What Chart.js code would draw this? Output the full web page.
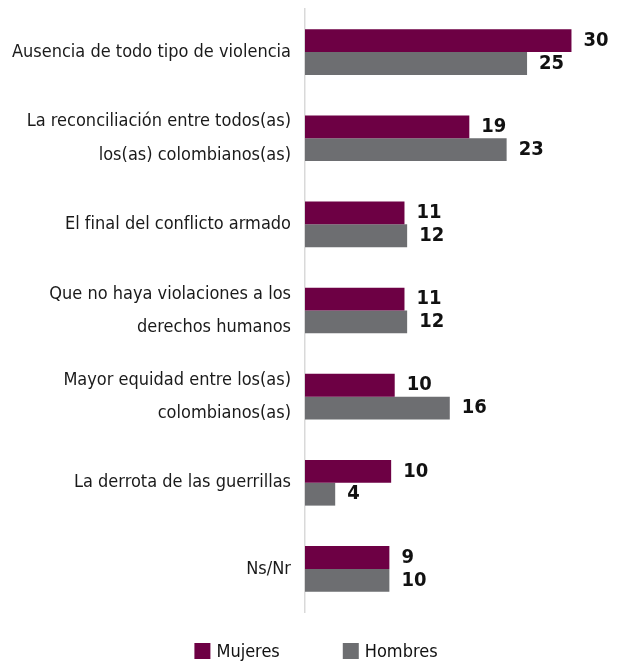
<!DOCTYPE html>
<html lang="es">
  <head>
    <meta charset="UTF-8" />
    <title>Paz</title>
  </head>
  <style>
    html, body { margin: 0; padding: 0; background: #fff; }
    .mainBox { width: 617px; height: 666px; }
  </style>
  <body>
    <div class="mainBox">
      <canvas id="myChart"></canvas>
    </div>
  </body>
  <script src="https://cdn.jsdelivr.net/npm/chart.js@4.4.0/dist/chart.umd.min.js"></script>
  <script>
    const FONT = "'Liberation Sans Narrow', 'DejaVu Sans Condensed', 'Roboto Condensed', sans-serif";

    const categories = [
      'Ausencia de todo tipo de violencia',
      ['La reconciliación entre todos(as)', 'los(as) colombianos(as)'],
      'El final del conflicto armado',
      ['Que no haya violaciones a los', 'derechos humanos'],
      ['Mayor equidad entre los(as)', 'colombianos(as)'],
      'La derrota de las guerrillas',
      'Ns/Nr'
    ];
    // bar lengths as measured, printed labels as shown
    const mujeres = [30, 18.5, 11.2, 11.2, 10.1, 9.7, 9.5];
    const hombres = [25, 22.7, 11.5, 11.5, 16.3, 3.4, 9.5];
    const mujeresLabels = ['30', '19', '11', '11', '10', '10', '9'];
    const hombresLabels = ['25', '23', '12', '12', '16', '4', '10'];
    const seriesNames = ['Mujeres', 'Hombres'];
    const colors = ['#6d0044', '#6d6e71'];

    // numbers at bar ends
    const valueLabels = {
      id: 'valueLabels',
      afterDatasetsDraw(chart) {
        const ctx = chart.ctx;
        const texts = [mujeresLabels, hombresLabels];
        ctx.save();
        ctx.font = 'bold 20px ' + FONT;
        ctx.fillStyle = '#111';
        ctx.textAlign = 'left';
        ctx.textBaseline = 'middle';
        chart.data.datasets.forEach((ds, i) => {
          chart.getDatasetMeta(i).data.forEach((bar, j) => {
            ctx.fillText(texts[i][j], bar.x + 12, bar.y);
          });
        });
        ctx.restore();
      }
    };

    // legend at the bottom
    const bottomLegend = {
      id: 'bottomLegend',
      afterDraw(chart) {
        const ctx = chart.ctx;
        ctx.save();
        ctx.font = '18px ' + FONT;
        ctx.textBaseline = 'middle';
        const box = 16, gap = 6, spacing = 63;
        const widths = seriesNames.map(n => box + gap + ctx.measureText(n).width);
        const total = widths.reduce((a, b) => a + b, 0) + spacing;
        let x = 316 - total / 2;
        const y = 651;
        seriesNames.forEach((n, i) => {
          ctx.fillStyle = colors[i];
          ctx.fillRect(x, y - box / 2, box, box);
          ctx.fillStyle = '#111';
          ctx.fillText(n, x + box + gap, y + 1);
          x += widths[i] + spacing;
        });
        ctx.restore();
      }
    };

    new Chart(document.getElementById('myChart'), {
      type: 'bar',
      data: {
        labels: categories,
        datasets: [
          { label: seriesNames[0], data: mujeres, backgroundColor: colors[0] },
          { label: seriesNames[1], data: hombres, backgroundColor: colors[1] }
        ]
      },
      options: {
        indexAxis: 'y',
        responsive: true,
        maintainAspectRatio: false,
        animation: false,
        layout: { padding: { top: 9, right: 10, bottom: 54, left: 0 } },
        datasets: { bar: { categoryPercentage: 0.53, barPercentage: 1 } },
        plugins: {
          legend: { display: false },
          tooltip: { enabled: false }
        },
        scales: {
          x: { display: false, min: 0, max: 34 },
          y: {
            afterFit(scale) {
              scale.width = 305;
              scale.paddingTop = 0;
              scale.paddingBottom = 0;
            },
            grid: { display: false, drawTicks: false },
            border: { display: true, color: '#d9d9d9', width: 1.5 },
            ticks: {
              padding: 14,
              color: '#1a1a1a',
              font: { family: FONT, size: 18, lineHeight: 1.85 }
            }
          }
        }
      },
      plugins: [valueLabels, bottomLegend]
    });
  </script>
</html>
